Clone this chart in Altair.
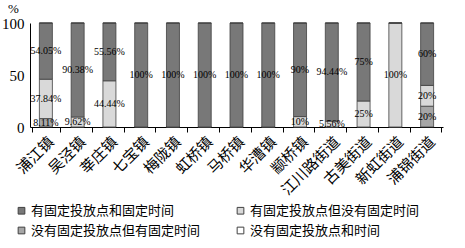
import altair as alt
import pandas as pd

categories = ["浦江镇", "吴泾镇", "莘庄镇", "七宝镇", "梅陇镇", "虹桥镇", "马桥镇",
              "华漕镇", "颛桥镇", "江川路街道", "古美街道", "新虹街道", "浦锦街道"]
series = ["有固定投放点和固定时间", "有固定投放点但没有固定时间",
          "没有固定投放点但有固定时间", "没有固定投放点和时间"]
fixed_both = [54.05, 90.38, 55.56, 100, 100, 100, 100, 100, 90, 94.44, 75, 0, 60]
fixed_point_only = [37.84, 9.62, 44.44, 0, 0, 0, 0, 0, 10, 5.56, 25, 100, 20]
fixed_time_only = [8.11, 0, 0, 0, 0, 0, 0, 0, 0, 0, 0, 0, 20]
neither = [0, 0, 0, 0, 0, 0, 0, 0, 0, 0, 0, 0, 0]
series_colors = {series[0]: "#787878", series[1]: "#d9d9d9",
                 series[2]: "#a6a6a6", series[3]: "#ffffff"}

# stacking order from bottom: fixed_time_only, fixed_point_only, fixed_both, neither
stack_order = {series[2]: 0, series[1]: 1, series[0]: 2, series[3]: 3}
values_by_series = {series[0]: fixed_both, series[1]: fixed_point_only,
                    series[2]: fixed_time_only, series[3]: neither}

rows = []
for i, c in enumerate(categories):
    base = 0.0
    for s in sorted(series, key=lambda k: stack_order[k]):
        v = values_by_series[s][i]
        rows.append({"cat": c, "series": s, "value": v, "ord": stack_order[s],
                     "mid": base + v / 2, "label": (f"{v:g}%" if v > 0 else "")})
        base += v
df = pd.DataFrame(rows)

# legend fills column by column: order so rows read as in the reference
legend_domain = [series[0], series[2], series[1], series[3]]
legend_range = [series_colors[s] for s in legend_domain]

cjk = "Noto Sans CJK SC"
serif = "Liberation Serif"

bars = alt.Chart(df).mark_bar(size=13, stroke="#404040", strokeWidth=0.8).encode(
    x=alt.X("cat:N", sort=categories, title=None,
            axis=alt.Axis(labelAngle=-45, labelFont=cjk, labelFontSize=15,
                          labelColor="black", tickBand="extent", tickSize=5,
                          tickColor="black", domainColor="black", labelPadding=2)),
    y=alt.Y("value:Q", stack="zero", scale=alt.Scale(domain=[0, 100]),
            axis=alt.Axis(values=[0, 50, 100], grid=False, ticks=False,
                          labelFont=serif, labelFontSize=15, labelColor="black",
                          domainColor="black", labelPadding=6,
                          title="%", titleAngle=0, titleFont=serif, titleFontSize=13,
                          titleFontWeight="normal", titleX=-17, titleY=-8,
                          titleColor="black")),
    color=alt.Color("series:N", scale=alt.Scale(domain=legend_domain, range=legend_range),
                    legend=alt.Legend(title=None, orient="none", legendX=-15, legendY=181,
                                      columns=2, columnPadding=33, rowPadding=6,
                                      symbolType="square", symbolSize=45,
                                      symbolStrokeColor="#404040", symbolStrokeWidth=1,
                                      labelFont=cjk, labelFontSize=13,
                                      labelColor="black", labelLimit=300, labelOffset=3)),
    order=alt.Order("ord:Q"),
)

labels = alt.Chart(df).transform_filter("datum.value > 0").mark_text(
    font=serif, fontSize=10, color="black").encode(
    x=alt.X("cat:N", sort=categories),
    y=alt.Y("mid:Q"),
    text="label:N",
)

chart = alt.layer(bars, labels).properties(
    width=413, height=104,
    autosize=alt.AutoSizeParams(type="none"),
    padding={"left": 30, "top": 23, "right": 22, "bottom": 121},
).configure_view(stroke=None)

chart.save("out.html", embed_options={"renderer": "svg", "actions": False})
